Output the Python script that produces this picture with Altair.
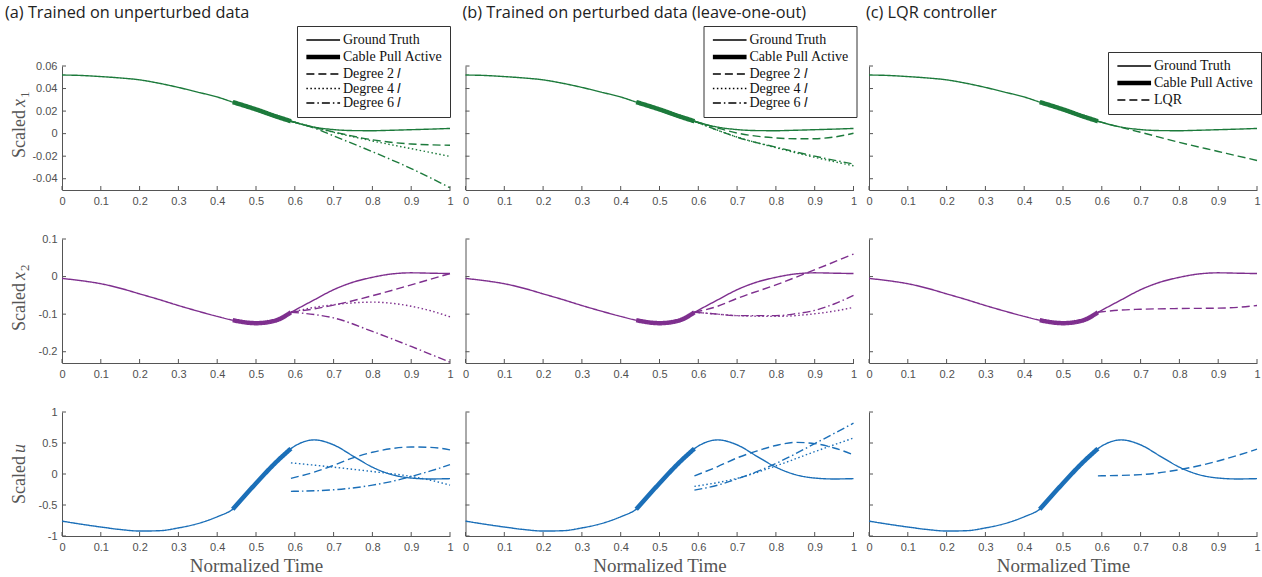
import altair as alt
import pandas as pd

# ---------------- data ----------------
L = "\U0001D459"  # mathematical italic small l
DEG2, DEG4, DEG6 = f"Degree 2 {L}", f"Degree 4 {L}", f"Degree 6 {L}"
GT, CABLE, LQR = "Ground Truth", "Cable Pull Active", "LQR"

COLUMN_TITLES = ["(a) Trained on unperturbed data",
                 "(b) Trained on perturbed data (leave-one-out)",
                 "(c) LQR controller"]
ROWS = ["x1", "x2", "u"]

X_TICKS = [0, 0.1, 0.2, 0.3, 0.4, 0.5, 0.6, 0.7, 0.8, 0.9, 1]
Y_TICKS = {"x1": [-0.04, -0.02, 0, 0.02, 0.04, 0.06],
           "x2": [-0.2, -0.1, 0, 0.1],
           "u": [-1, -0.5, 0, 0.5, 1]}
Y_DOMAINS = {"x1": [-0.05, 0.06], "x2": [-0.23, 0.1], "u": [-1, 1]}

CABLE_START, CABLE_END = 0.44, 0.59

GT_T = [0, 0.05, 0.1, 0.15, 0.2, 0.25, 0.3, 0.35, 0.4, 0.44, 0.5, 0.55, 0.59,
        0.65, 0.7, 0.75, 0.8, 0.85, 0.9, 0.95, 1.0]
GT_X1 = [0.052, 0.0516, 0.0506, 0.0494, 0.0477, 0.0447, 0.041, 0.0368, 0.0325, 0.028,
         0.0215, 0.0155, 0.011, 0.0058, 0.0036, 0.0027, 0.0026, 0.003, 0.0035, 0.004, 0.0046]
GT_X2 = [-0.005, -0.011, -0.019, -0.031, -0.046, -0.061, -0.077, -0.092, -0.106, -0.116,
         -0.124, -0.117, -0.095, -0.062, -0.035, -0.015, -0.002, 0.007, 0.010, 0.009, 0.008]
GT_U = [-0.76, -0.81, -0.855, -0.895, -0.92, -0.915, -0.87, -0.8, -0.69, -0.57,
        -0.15, 0.18, 0.41, 0.55, 0.47, 0.29, 0.11, -0.01, -0.065, -0.08, -0.075]
GROUND = {"x1": GT_X1, "x2": GT_X2, "u": GT_U}

# predictions: (times, values)
PRED_A = {
    "x1": {DEG2: ([0.59, 0.65, 0.7, 0.8, 0.9, 1.0], [0.011, 0.0055, 0.0015, -0.0055, -0.0092, -0.0103]),
           DEG4: ([0.59, 0.65, 0.7, 0.8, 0.9, 1.0], [0.011, 0.0055, 0.0012, -0.0065, -0.0133, -0.0202]),
           DEG6: ([0.59, 0.65, 0.7, 0.8, 0.9, 1.0], [0.011, 0.005, -0.002, -0.016, -0.031, -0.048])},
    "x2": {DEG2: ([0.59, 0.65, 0.7, 0.8, 0.9, 1.0], [-0.095, -0.086, -0.076, -0.051, -0.022, 0.008]),
           DEG4: ([0.59, 0.65, 0.7, 0.75, 0.8, 0.85, 0.9, 0.95, 1.0],
                  [-0.095, -0.082, -0.075, -0.07, -0.068, -0.071, -0.079, -0.091, -0.107]),
           DEG6: ([0.59, 0.65, 0.7, 0.8, 0.9, 1.0], [-0.095, -0.101, -0.11, -0.146, -0.186, -0.228])},
    "u": {DEG2: ([0.59, 0.65, 0.7, 0.75, 0.8, 0.85, 0.9, 0.95, 1.0],
                 [-0.07, 0.03, 0.14, 0.26, 0.35, 0.41, 0.435, 0.43, 0.39]),
          DEG4: ([0.59, 0.7, 0.8, 0.9, 0.95, 1.0], [0.18, 0.11, 0.04, -0.04, -0.10, -0.18]),
          DEG6: ([0.59, 0.7, 0.8, 0.85, 0.9, 0.95, 1.0], [-0.28, -0.255, -0.18, -0.12, -0.04, 0.05, 0.15])},
}
PRED_B = {
    "x1": {DEG2: ([0.59, 0.65, 0.7, 0.75, 0.8, 0.85, 0.9, 0.95, 1.0],
                  [0.011, 0.005, 0.0005, -0.0022, -0.0038, -0.0046, -0.0045, -0.003, 0.0003]),
           DEG4: ([0.59, 0.65, 0.7, 0.8, 0.9, 1.0], [0.011, 0.003, -0.003, -0.0125, -0.021, -0.0285]),
           DEG6: ([0.59, 0.65, 0.7, 0.8, 0.9, 1.0], [0.011, 0.003, -0.0032, -0.012, -0.020, -0.027])},
    "x2": {DEG2: ([0.59, 0.65, 0.7, 0.8, 0.9, 1.0], [-0.095, -0.079, -0.058, -0.022, 0.018, 0.060]),
           DEG4: ([0.59, 0.65, 0.7, 0.8, 0.9, 0.95, 1.0], [-0.095, -0.100, -0.104, -0.106, -0.099, -0.092, -0.082]),
           DEG6: ([0.59, 0.65, 0.7, 0.8, 0.85, 0.9, 0.95, 1.0],
                  [-0.095, -0.100, -0.104, -0.104, -0.099, -0.090, -0.073, -0.050])},
    "u": {DEG2: ([0.59, 0.65, 0.7, 0.75, 0.8, 0.85, 0.9, 0.95, 1.0],
                 [-0.03, 0.12, 0.26, 0.37, 0.46, 0.51, 0.49, 0.42, 0.31]),
          DEG4: ([0.59, 0.7, 0.8, 0.9, 1.0], [-0.2, -0.07, 0.13, 0.36, 0.58]),
          DEG6: ([0.59, 0.65, 0.7, 0.8, 0.9, 1.0], [-0.26, -0.18, -0.08, 0.17, 0.49, 0.82])},
}
PRED_C = {
    "x1": {LQR: ([0.59, 0.65, 0.7, 0.8, 0.9, 1.0], [0.011, 0.0055, 0.0012, -0.0078, -0.0158, -0.0238])},
    "x2": {LQR: ([0.59, 0.65, 0.7, 0.8, 0.9, 0.95, 1.0], [-0.095, -0.089, -0.087, -0.085, -0.084, -0.082, -0.077])},
    "u": {LQR: ([0.59, 0.7, 0.8, 0.9, 0.95, 1.0], [-0.03, -0.01, 0.07, 0.21, 0.30, 0.40])},
}
PREDICTIONS = [PRED_A, PRED_B, PRED_C]
LEGEND_NAMES = [[GT, CABLE, DEG2, DEG4, DEG6], [GT, CABLE, DEG2, DEG4, DEG6], [GT, CABLE, LQR]]

# ---------------- styles ----------------
COLORS = {"x1": "#1c7a3b", "x2": "#7e2f8e", "u": "#1b6fb8"}
STYLE_DASH = {GT: [1, 0], CABLE: [1, 0], DEG2: [8, 4], DEG4: [1.5, 2.5],
              DEG6: [8, 3, 1.5, 3], LQR: [8, 4]}
STYLE_WIDTH = {GT: 1.4, CABLE: 4.5, DEG2: 1.4, DEG4: 1.4, DEG6: 1.4, LQR: 1.4}
ROW_LABEL = {"x1": ("x", "1"), "x2": ("x", "2"), "u": ("u", "")}
LEGEND_POS = [(235, -40), (238, -40), (239, -14)]
TITLE_OFFSET = [4, 4, 30]
TITLE_DX = [-6, 0, 0]

W, H = 388, 124
AXIS_COLOR = "#555555"
LABEL_COLOR = "#505050"
MINUS = "\u2212"


def line_frame(row, col):
    recs = []
    for t, v in zip(GT_T, GROUND[row]):
        recs.append({"t": t, "v": v, "series": GT})
    for t, v in zip(GT_T, GROUND[row]):
        if CABLE_START <= t <= CABLE_END:
            recs.append({"t": t, "v": v, "series": CABLE})
    for name, (ts, vs) in PREDICTIONS[col][row].items():
        for t, v in zip(ts, vs):
            recs.append({"t": t, "v": v, "series": name})
    return pd.DataFrame(recs)


def panel(row, col):
    names = LEGEND_NAMES[col]
    first_row = row == "x1"
    last_row = row == "u"
    xaxis = alt.Axis(values=X_TICKS, tickSize=0, labelPadding=5, labelFlush=False,
                     labelExpr=f"replace(format(datum.value, '~g'), '{MINUS}', '-')",
                     title="Normalized Time" if last_row else None,
                     titleFont="Liberation Serif", titleFontSize=19, titleFontWeight="normal",
                     titleColor="#555555", titlePadding=4)
    yaxis = alt.Axis(values=Y_TICKS[row], tickSize=0, labelPadding=5, labels=(col == 0),
                     labelExpr=f"replace(format(datum.value, '~g'), '{MINUS}', '-')",
                     title=None)
    x_enc = alt.X("t:Q", scale=alt.Scale(domain=[0, 1], nice=False, zero=False), axis=xaxis)
    y_enc = alt.Y("v:Q", scale=alt.Scale(domain=Y_DOMAINS[row], nice=False, zero=False), axis=yaxis)

    if first_row:
        lx, ly = LEGEND_POS[col]
        leg = alt.Legend(orient="none", legendX=lx, legendY=ly, title=None,
                         strokeColor="#333333", fillColor="white", padding=7,
                         symbolType="M-1,0H4.5", symbolSize=150, symbolStrokeColor="black",
                         labelFont="Liberation Serif", labelFontSize=14, labelColor="#111111",
                         labelOffset=22, rowPadding=0.5)
    else:
        leg = None

    lines = alt.Chart(line_frame(row, col)).mark_line(interpolate="monotone", color=COLORS[row]).encode(
        x=x_enc, y=y_enc,
        strokeDash=alt.StrokeDash("series:N", scale=alt.Scale(type="ordinal", domain=names, range=[STYLE_DASH[n] for n in names]), legend=leg),
        strokeWidth=alt.StrokeWidth("series:N", scale=alt.Scale(type="ordinal", domain=names, range=[STYLE_WIDTH[n] for n in names]), legend=leg),
    )
    xt = alt.Chart(pd.DataFrame({"t": X_TICKS})).mark_rule(color=AXIS_COLOR, strokeWidth=1).encode(
        x=x_enc, y=alt.value(H), y2=alt.value(H - 4))
    yt = alt.Chart(pd.DataFrame({"v": Y_TICKS[row]})).mark_rule(color=AXIS_COLOR, strokeWidth=1).encode(
        y=y_enc, x=alt.value(0), x2=alt.value(4))
    layers = [lines, xt, yt]

    if col == 0:
        one = pd.DataFrame({"k": [0]})
        var, sub = ROW_LABEL[row]
        base = dict(angle=270, align="left", baseline="alphabetic", font="Liberation Serif", color="#555555")
        layers.append(alt.Chart(one).mark_text(text="Scaled", fontSize=18, **base).encode(
            x=alt.value(-37), y=alt.value(92)))
        layers.append(alt.Chart(one).mark_text(text=var, fontSize=18, fontStyle="italic", dx=51, **base).encode(
            x=alt.value(-37), y=alt.value(92)))
        if sub:
            layers.append(alt.Chart(one).mark_text(text=sub, fontSize=13, dx=60, dy=4, **base).encode(
                x=alt.value(-37), y=alt.value(92)))

    props = dict(width=W, height=H)
    if first_row:
        props["title"] = alt.TitleParams(COLUMN_TITLES[col], anchor="start", font="Open Sans", fontSize=16.3,
                                         fontWeight="normal", color="#222222", offset=TITLE_OFFSET[col],
                                         dx=TITLE_DX[col])
    return alt.layer(*layers).properties(**props)


rows = []
for row in ROWS:
    rows.append(alt.hconcat(*[panel(row, c) for c in range(3)], spacing=7.5)
                .resolve_scale(strokeDash="independent", strokeWidth="independent")
                .resolve_legend(strokeDash="independent", strokeWidth="independent"))

chart = (alt.vconcat(*rows, spacing=27)
         .resolve_scale(strokeDash="independent", strokeWidth="independent")
         .resolve_legend(strokeDash="independent", strokeWidth="independent")
         .properties(padding={"left": 5, "top": 5, "right": 0, "bottom": 0})
         .configure_view(stroke=None)
         .configure_axis(grid=False, domainColor=AXIS_COLOR, domainWidth=1,
                         labelFont="Liberation Sans", labelFontSize=11, labelColor=LABEL_COLOR))

chart.save("out.html", embed_options={"renderer": "svg", "actions": False})
